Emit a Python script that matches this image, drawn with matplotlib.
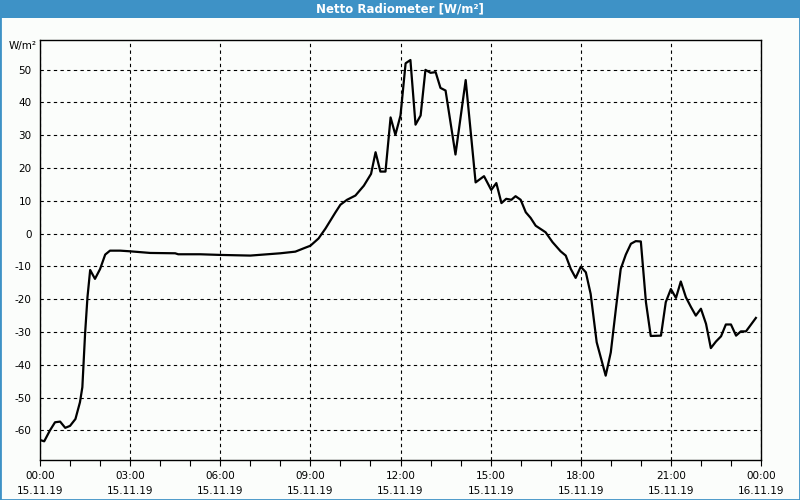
import matplotlib

matplotlib.use("Agg")
import matplotlib.pyplot as plt
from matplotlib.patches import Rectangle
from matplotlib.ticker import MultipleLocator

# hours since 15.11.19 00:00 and net radiation in W/m²
hours = [0.0, 0.14, 0.33, 0.5, 0.67, 0.84, 1.0, 1.18, 1.33, 1.41, 1.5, 1.58,
         1.67, 1.83, 2.0, 2.17, 2.33, 2.67, 3.0, 3.67, 4.5, 4.6, 5.33, 6.0,
         7.0, 8.0, 8.5, 8.83, 9.0, 9.27, 9.5, 9.83, 10.0, 10.22, 10.5, 10.78,
         11.02, 11.17, 11.33, 11.5, 11.67, 11.83, 12.0, 12.17, 12.33, 12.5,
         12.67, 12.83, 13.0, 13.17, 13.33, 13.5, 13.83, 14.17, 14.5, 14.78,
         15.02, 15.19, 15.36, 15.52, 15.69, 15.83, 16.0, 16.17, 16.33, 16.5,
         16.83, 17.06, 17.33, 17.5, 17.67, 17.83, 18.0, 18.17, 18.33, 18.53,
         18.83, 19.0, 19.17, 19.33, 19.5, 19.67, 19.83, 20.0, 20.17, 20.33,
         20.67, 20.83, 21.0, 21.17, 21.33, 21.5, 21.67, 21.83, 22.0, 22.17,
         22.33, 22.5, 22.67, 22.83, 23.0, 23.17, 23.33, 23.5, 23.83]
netto = [-62.9, -63.3, -60.0, -57.5, -57.3, -59.2, -58.6, -56.5, -51.4, -46.8,
         -30.6, -19.4, -11.1, -13.8, -10.8, -6.4, -5.2, -5.2, -5.4, -5.9, -6.0,
         -6.3, -6.3, -6.5, -6.7, -6.0, -5.5, -4.3, -3.7, -1.5, 1.5, 6.4, 8.8,
         10.3, 11.6, 14.6, 18.2, 24.8, 18.9, 18.9, 35.4, 30.1, 36.0, 51.9, 52.9,
         33.2, 36.0, 49.9, 49.0, 49.2, 44.4, 43.6, 24.1, 46.8, 15.6, 17.5, 13.3,
         15.4, 9.3, 10.6, 10.3, 11.4, 10.3, 6.5, 4.8, 2.4, 0.4, -2.6, -5.4, -6.7,
         -10.8, -13.5, -10.1, -11.8, -18.4, -33.1, -43.3, -36.2, -22.9, -10.8,
         -6.4, -3.1, -2.3, -2.4, -20.9, -31.2, -31.1, -20.9, -16.9, -19.6, -14.6,
         -19.4, -22.4, -25.0, -22.9, -27.5, -34.9, -32.9, -31.3, -27.7, -27.7,
         -31.1, -29.8, -29.8, -25.7]

xtick_hours = [0, 3, 6, 9, 12, 15, 18, 21, 24]
xtick_labels = ["00:00\n15.11.19", "03:00\n15.11.19", "06:00\n15.11.19",
                "09:00\n15.11.19", "12:00\n15.11.19", "15:00\n15.11.19",
                "18:00\n15.11.19", "21:00\n15.11.19", "00:00\n16.11.19"]
yticks = list(range(-60, 60, 10))

BLUE = "#3e92c6"
BG = "#fbfdfb"

fig = plt.figure(figsize=(8, 5), dpi=100, facecolor=BG)
fig.patches.append(Rectangle((0, 1 - 18 / 500), 1, 18 / 500, transform=fig.transFigure,
                             facecolor=BLUE, edgecolor="none", zorder=0))
fig.patches.append(Rectangle((0, 0), 1, 1, transform=fig.transFigure,
                             facecolor="none", edgecolor=BLUE, linewidth=2, zorder=1))
fig.text(0.5, 1 - 9 / 500, "Netto Radiometer [W/m²]", color="white",
         fontsize=8.5, fontweight="bold", ha="center", va="center")
fig.text(37 / 800, 1 - 46 / 500, "W/m²", fontsize=7.5, ha="right", va="center")

ax = fig.add_axes([40 / 800, 40 / 500, 721 / 800, 420 / 500])
ax.set_facecolor(BG)
ax.plot(hours, netto, color="black", linewidth=1.6, zorder=3)

ax.set_xlim(0, 24)
ax.set_ylim(-69, 59)
ax.set_xticks(xtick_hours)
ax.set_xticklabels(xtick_labels, fontsize=7.5, linespacing=1.55)
ax.xaxis.set_minor_locator(MultipleLocator(1))
ax.set_yticks(yticks)
ax.set_yticklabels([str(v) for v in yticks], fontsize=7.5)
ax.tick_params(axis="x", which="both", direction="out", length=4, width=0.8, pad=4)
ax.tick_params(axis="y", length=0, pad=6)
ax.grid(True, color="black", linestyle=(0, (3, 3)), linewidth=0.8)
for sp in ax.spines.values():
    sp.set_linewidth(1.0)

fig.savefig("out.png", dpi=100, facecolor=BG)
